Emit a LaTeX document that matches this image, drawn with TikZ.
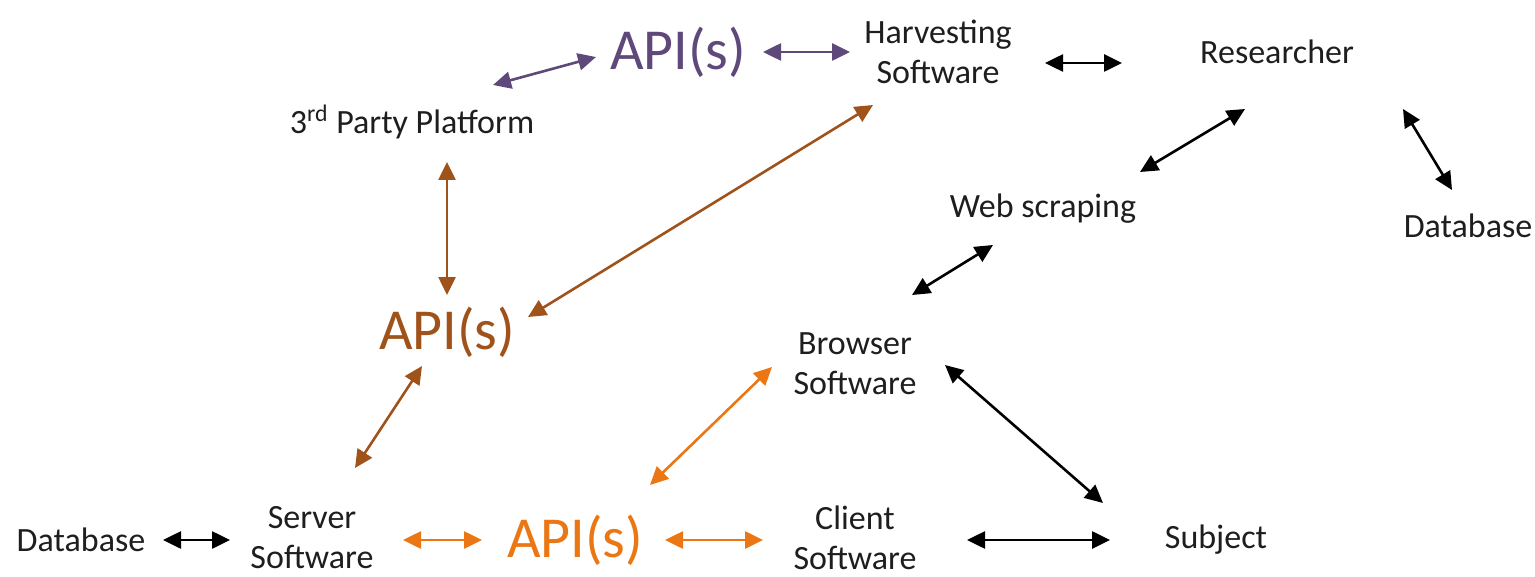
\documentclass[tikz,border=0pt]{standalone}
\usepackage{fontspec}
\setmainfont{Carlito}
\usetikzlibrary{arrows.meta,calc}
\definecolor{apipurple}{HTML}{5F497A}
\definecolor{apibrown}{HTML}{A0521B}
\definecolor{apiorange}{HTML}{EA7614}
\definecolor{labelgray}{HTML}{1E1E1E}
\begin{document}
\begin{tikzpicture}[x=0.5pt,y=-0.5pt,
  lbl/.style={text=labelgray,font=\fontsize{17}{20}\selectfont,align=center,inner sep=0pt},
  api/.style={font=\fontsize{29}{34}\selectfont,inner sep=0pt},
  arr/.style={line width=1.3pt,{Triangle[length=9pt,width=8.5pt]}-{Triangle[length=9pt,width=8.5pt]}},
  blk/.style={arr,draw=black,fill=black},
  pur/.style={arr,draw=apipurple,fill=apipurple},
  brn/.style={arr,draw=apibrown,fill=apibrown},
  org/.style={arr,draw=apiorange,fill=apiorange}]
\useasboundingbox (0,0) rectangle (1535,577);

% labels
\node[lbl] (dbL) at (81,540) {Database};
\node[lbl] (server) at (312,538) {Server\\Software};
\node[api,text=apiorange] (apiO) at (575,540) {API(s)};
\node[lbl] (client) at (855,538) {Client\\Software};
\node[lbl] (subject) at (1216,540) {Subject};
\node[lbl] (browser) at (855,364) {Browser\\Software};
\node[api,text=apibrown] (apiB) at (447,332) {API(s)};
\node[lbl] (third) at (412,122) {3\textsuperscript{rd} Party Platform};
\node[api,text=apipurple] (apiP) at (678,52) {API(s)};
\node[lbl] (harvest) at (938,52) {Harvesting\\Software};
\node[lbl] (research) at (1277,52) {Researcher};
\node[lbl] (web) at (1043,209) {Web scraping};
\node[lbl] (dbR) at (1468,226) {Database};

% connectors
\draw[pur] ($(third)+(81,-37)$) -- ($(apiP)+(-82,5)$);
\draw[pur] ($(apiP)+(85,0)$) -- ($(harvest)+(-88,0)$);
\draw[blk] ($(harvest)+(107,11)$) -- ($(research)+(-155,11)$);
\draw[blk] ($(web)+(97,-37)$) -- ($(research)+(-32,57)$);
\draw[blk] ($(research)+(126,57)$) -- ($(dbR)+(-16,-36)$);
\draw[blk] ($(browser)+(57,-69)$) -- ($(web)+(-50,36)$);
\draw[brn] ($(third)+(35,40)$) -- ($(apiB)+(0,-37)$);
\draw[brn] ($(apiB)+(81,-15)$) -- ($(harvest)+(-65,53)$);
\draw[brn] ($(server)+(43,-70)$) -- ($(apiB)+(-25,34)$);
\draw[org] ($(apiO)+(75,-55)$) -- ($(browser)+(-83,3)$);
\draw[blk] ($(browser)+(90,1)$) -- ($(subject)+(-113,-37)$);
\draw[blk] ($(dbL)+(82,0)$) -- ($(server)+(-82,2)$);
\draw[org] ($(server)+(91,2)$) -- ($(apiO)+(-93,0)$);
\draw[org] ($(apiO)+(90,0)$) -- ($(client)+(-92,2)$);
\draw[blk] ($(client)+(112,2)$) -- ($(subject)+(-106,0)$);
\end{tikzpicture}
\end{document}
